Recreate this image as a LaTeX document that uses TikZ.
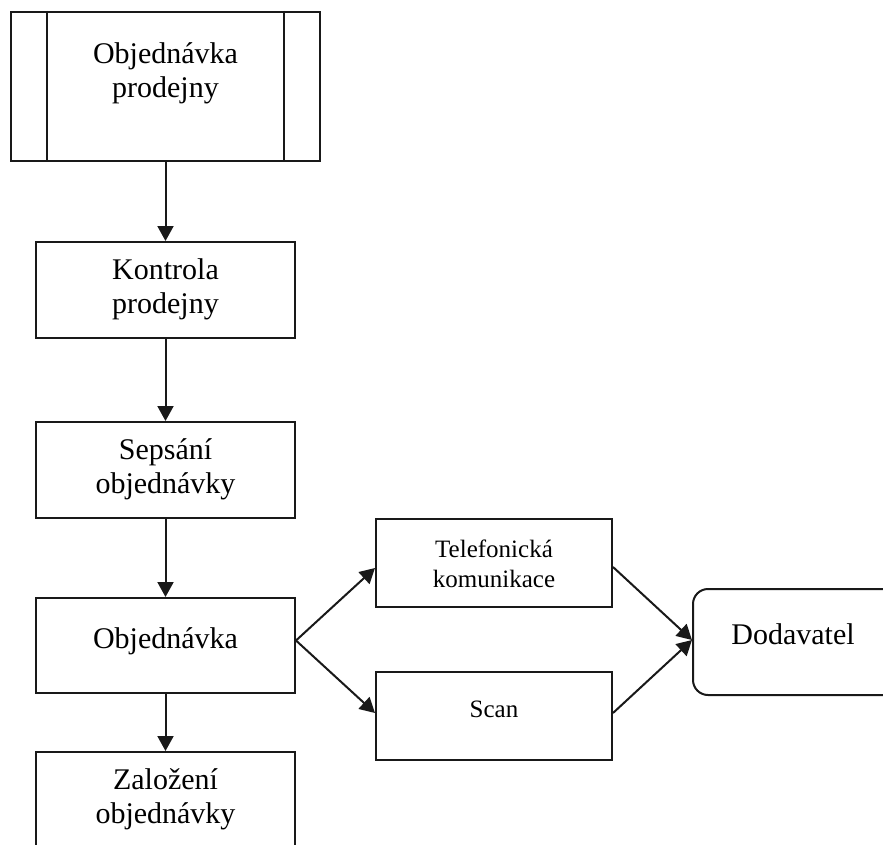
\documentclass[tikz,border=0pt]{standalone}
\usepackage{fontspec}
\setmainfont{Liberation Serif}
\usetikzlibrary{arrows.meta}

\tikzset{
  box/.style={draw=black!90, line width=2pt, rectangle, inner sep=0pt},
  roundbox/.style={box, rounded corners=15pt},
  % anchor=base sits on the baseline of the last line
  bigtxt/.style={anchor=base, align=center, inner sep=0pt,
    font=\fontsize{30}{34}\selectfont},
  smalltxt/.style={anchor=base, align=center, inner sep=0pt,
    font=\fontsize{25}{30}\selectfont},
  flow/.style={draw=black!90, line width=2pt,
    -{Triangle[length=15pt,width=16pt]}}
}

\begin{document}
\begin{tikzpicture}[x=1pt, y=-1pt]
  \useasboundingbox (0,0) rectangle (883,845);
  \fill[white] (0,0) rectangle (883,845);
  \clip (0,0) rectangle (883,845);

  % left column of process steps
  \node[box, minimum width=309pt, minimum height=149pt] (order) at (165.5,86.5) {};
  \draw[line width=2pt, draw=black!90]
    ([xshift=37pt]order.north west) -- ([xshift=37pt]order.south west)
    ([xshift=-37pt]order.north east) -- ([xshift=-37pt]order.south east);
  \node[box, minimum width=259pt, minimum height=96pt] (check) at (165.5,290) {};
  \node[box, minimum width=259pt, minimum height=96pt] (write) at (165.5,470) {};
  \node[box, minimum width=259pt, minimum height=95pt] (ord) at (165.5,645.5) {};
  \node[box, minimum width=259pt, minimum height=120pt] (found) at (165.5,812) {};

  % communication channels
  \node[box, minimum width=236pt, minimum height=88pt] (phone) at (494,563) {};
  \node[box, minimum width=236pt, minimum height=88pt] (scan) at (494,716) {};

  % supplier
  \node[roundbox, minimum width=240pt, minimum height=106pt] (supp) at (813,642) {};

  % labels
  \node[bigtxt] (torder) at (165.5,98) {Objednávka\\prodejny};
  \node[bigtxt] (tcheck) at (165.5,313) {Kontrola\\prodejny};
  \node[bigtxt] (twrite) at (165.5,493) {Sepsání\\objednávky};
  \node[bigtxt] (tord) at (165.5,648) {Objednávka};
  \node[bigtxt] (tfound) at (165.5,823) {Založení\\objednávky};
  \node[smalltxt] (tphone) at (494,587) {Telefonická\\komunikace};
  \node[smalltxt] (tscan) at (494,717) {Scan};
  \node[bigtxt] (tsupp) at (793,644) {Dodavatel};

  % connectors
  \draw[flow] (order.south) -- (check.north);
  \draw[flow] (check.south) -- (write.north);
  \draw[flow] (write.south) -- (ord.north);
  \draw[flow] (ord.south) -- (found.north);
  \draw[flow] ([yshift=5pt]ord.east) -- ([yshift=-5pt]phone.west);
  \draw[flow] ([yshift=5pt]ord.east) -- ([yshift=3pt]scan.west);
  \draw[flow] ([yshift=-4pt]phone.east) -- ([yshift=2pt]supp.west);
  \draw[flow] ([yshift=3pt]scan.east) -- ([yshift=2pt]supp.west);
\end{tikzpicture}
\end{document}
